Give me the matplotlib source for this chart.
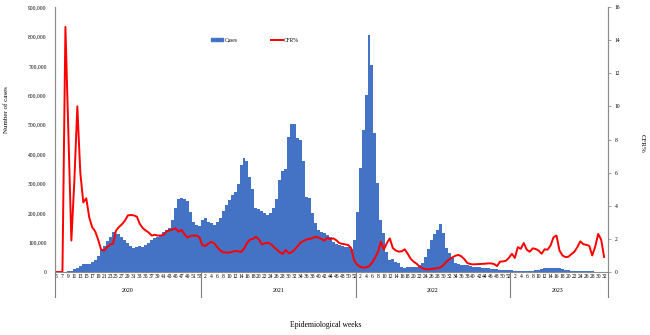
import numpy as np
import matplotlib
matplotlib.use("Agg")
import matplotlib.pyplot as plt
from matplotlib.patches import Patch
from matplotlib.lines import Line2D
from matplotlib.transforms import blended_transform_factory

plt.rcParams['font.family'] = ['Liberation Serif', 'DejaVu Serif']

# weekly cases, 2020 starts at week 5
weeks_2020 = list(range(5, 54))
weeks_2021 = list(range(1, 53))
weeks_2022 = list(range(1, 53))
weeks_2023 = list(range(1, 33))

cases_2020 = [0, 0, 0, 1000, 2000, 5000, 9000, 15000, 20000, 26000,
              26000, 27000, 33000, 42000, 55000, 75000, 90000, 105000, 120000, 136000,
              130000, 128000, 120000, 108000, 98000, 90000, 80000, 84000, 88000, 86000,
              92000, 100000, 108000, 115000, 120000, 125000, 135000, 142000, 150000, 177000,
              216000, 247000, 250000, 248000, 240000, 205000, 170000, 160000, 155000]
cases_2021 = [178000, 185000, 171000, 165000, 160000, 169000, 182000, 207000, 228000, 245000,
              261000, 271000, 299000, 363000, 388000, 378000, 321000, 281000, 216000, 214000,
              207000, 200000, 194000, 199000, 216000, 247000, 312000, 343000, 350000, 460000,
              501000, 501000, 454000, 448000, 378000, 254000, 250000, 201000, 165000, 143000,
              137000, 131000, 125000, 120000, 103000, 94000, 92000, 89000, 86000, 84000,
              77000, 109000]
cases_2022 = [205000, 352000, 482000, 601000, 805000, 703000, 471000, 301000, 177000, 134000,
              67000, 41000, 43000, 35000, 29000, 18000, 12000, 18000, 16000, 16000,
              16000, 25000, 32000, 50000, 77000, 109000, 128000, 143000, 163000, 131000,
              80000, 63000, 46000, 32000, 27000, 25000, 24000, 23000, 20000, 18000,
              17000, 16000, 15000, 13000, 12000, 11000, 10000, 9000, 8000, 7000,
              6000, 6000]
cases_2023 = [7000, 5000, 5000, 4000, 4000, 4000, 4000, 5000, 6000, 8000,
              10000, 12000, 13000, 14000, 14000, 13000, 12000, 10000, 8000, 6000,
              5000, 4000, 3000, 3000, 2000, 2000, 2000, 2000, 1000, 1000,
              1000, 1000]

cfr_2020 = [0, 0, 0, 14.8, 8.3, 1.9, 5.5, 10.0, 6.0, 4.2,
            4.45, 3.3, 2.7, 2.45, 1.95, 1.35, 1.3, 1.5, 1.65, 1.72,
            2.5, 2.72, 2.88, 3.1, 3.42, 3.44, 3.42, 3.34, 2.9, 2.65,
            2.5, 2.38, 2.2, 2.25, 2.2, 2.2, 2.25, 2.45, 2.52, 2.56,
            2.64, 2.43, 2.54, 2.28, 2.08, 2.18, 2.2, 2.2, 2.1]
cfr_2021 = [1.62, 1.57, 1.72, 1.82, 1.73, 1.5, 1.3, 1.19, 1.17, 1.17,
            1.22, 1.27, 1.25, 1.21, 1.4, 1.75, 1.95, 2.0, 2.13, 1.97,
            1.67, 1.73, 1.77, 1.69, 1.52, 1.36, 1.2, 1.09, 1.33, 1.13,
            1.19, 1.35, 1.55, 1.77, 1.88, 1.96, 2.0, 2.04, 2.13, 2.08,
            2.0, 1.89, 2.07, 1.97, 2.03, 1.92, 1.75, 1.7, 1.67, 1.63,
            1.45, 0.7]
cfr_2022 = [0.45, 0.32, 0.26, 0.28, 0.35, 0.55, 0.85, 1.2, 1.83, 1.35,
            1.75, 2.03, 1.45, 1.3, 1.23, 1.25, 1.37, 1.1, 0.8, 0.62,
            0.5, 0.32, 0.22, 0.17, 0.16, 0.18, 0.21, 0.23, 0.28, 0.42,
            0.62, 0.77, 0.88, 0.98, 1.03, 0.95, 0.78, 0.55, 0.48, 0.46,
            0.47, 0.48, 0.49, 0.5, 0.52, 0.52, 0.48, 0.36, 0.62, 0.64,
            0.68, 0.85]
cfr_2023 = [1.1, 0.85, 1.5, 1.4, 1.75, 1.35, 1.22, 1.43, 1.39, 1.29,
            1.1, 1.37, 1.35, 1.6, 2.1, 2.2, 1.3, 1.0, 0.9, 0.92,
            1.08, 1.22, 1.5, 1.85, 1.68, 1.64, 1.58, 1.0, 1.53, 2.3,
            1.95, 0.9]

years = ['2020', '2021', '2022', '2023']
year_weeks = [weeks_2020, weeks_2021, weeks_2022, weeks_2023]

weeks = weeks_2020 + weeks_2021 + weeks_2022 + weeks_2023
cases = cases_2020 + cases_2021 + cases_2022 + cases_2023
cfr = cfr_2020 + cfr_2021 + cfr_2022 + cfr_2023
x = np.arange(len(weeks))

fig = plt.figure(figsize=(6.5, 3.35), dpi=100)
ax = fig.add_axes([55 / 650, 63 / 335, 553 / 650, 265 / 335])
ax2 = ax.twinx()

ax.bar(x, cases, width=1.0, color='#4472C4', linewidth=0)
ax2.plot(x, cfr, color='red', lw=1.4)

ax.set_xlim(-0.5, len(weeks) + 0.3)
ax.set_ylim(0, 900000)
ax2.set_ylim(0, 16)
ax.set_yticks(np.arange(0, 900001, 100000))
ax.set_yticklabels([f'{v:,}' for v in range(0, 900001, 100000)], fontsize=4)
ax2.set_yticks(np.arange(0, 17, 2))
ax2.tick_params(axis='y', labelsize=4, length=2, width=0.5, color='#7f7f7f', pad=3)
ax.tick_params(axis='y', length=0, pad=6)

# every other week gets a label: odd weeks in 2020, even weeks afterwards
tick_pos, tick_lab = [], []
for i, w in enumerate(weeks):
    first_year = i < len(weeks_2020)
    if (first_year and w % 2 == 1) or (not first_year and w % 2 == 0):
        tick_pos.append(i)
        tick_lab.append(str(w))
ax.set_xticks(tick_pos)
ax.set_xticklabels(tick_lab, fontsize=4)
ax.tick_params(axis='x', length=0, pad=1.5)

for a in (ax, ax2):
    a.spines['top'].set_visible(False)
    for s in ('left', 'right', 'bottom'):
        a.spines[s].set_color('#8c8c8c')
        a.spines[s].set_linewidth(0.8)
ax.spines['bottom'].set_color('#404040')
ax.spines['bottom'].set_linewidth(0.6)

# year separators and labels under the week axis
trans = blended_transform_factory(ax.transData, ax.transAxes)
start = 0
bounds = [-0.5]
for yr, wk in zip(years, year_weeks):
    end = start + len(wk)
    ax.text((start + end - 1) / 2, -0.068, yr, transform=trans,
            ha='center', va='center', fontsize=4.3)
    bounds.append(end - 0.5)
    start = end
bounds[-1] = len(weeks) + 0.3
for b in bounds:
    ax.plot([b, b], [0, -0.094], transform=trans, color='#7f7f7f',
            lw=0.8, clip_on=False)

fig.text(7 / 650, 1 - 110 / 335, 'Number of cases', rotation=90,
         ha='center', va='center', fontsize=5)
fig.text(642 / 650, 1 - 143 / 335, 'CFR%', rotation=-90,
         ha='center', va='center', fontsize=5)
fig.text(326 / 650, 1 - 325 / 335, 'Epidemiological weeks',
         ha='center', va='center', fontsize=5.5)

handles = [Patch(color='#4472C4'), Line2D([0], [0], color='red', lw=1.4)]
ax2.legend(handles, ['Cases', 'CFR%'], ncol=2, loc='center',
           bbox_to_anchor=(255 / 650, 1 - 40 / 335), bbox_transform=fig.transFigure,
           frameon=False, fontsize=4, handlelength=2.2, handleheight=0.5,
           handletextpad=0.2, columnspacing=6)

fig.savefig('out.png', dpi=100)
